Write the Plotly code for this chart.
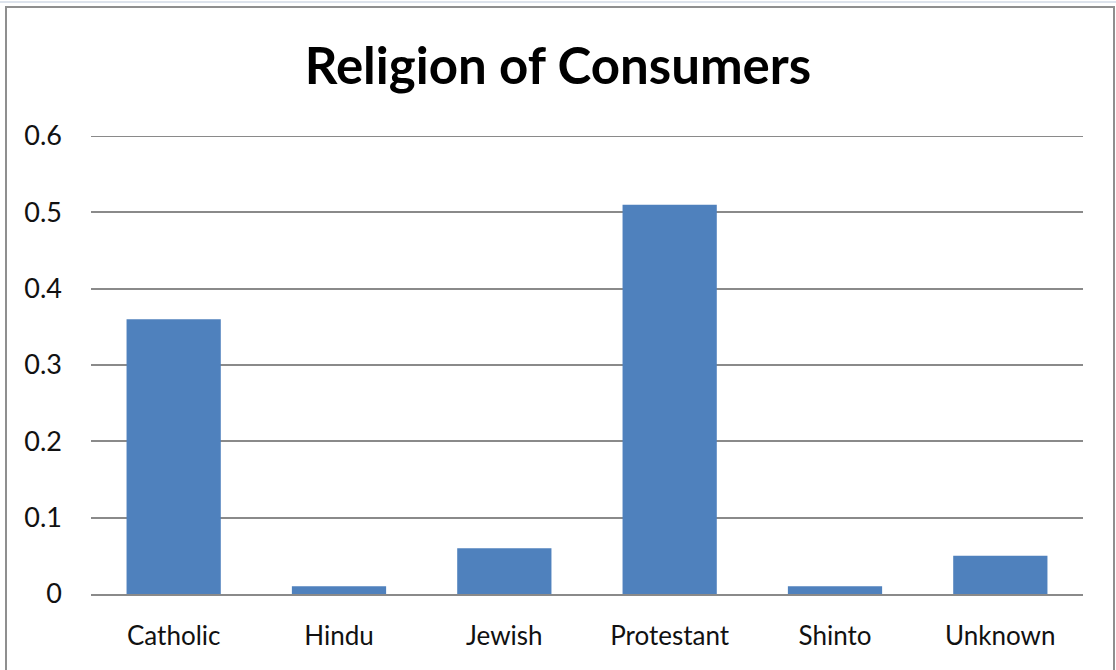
import plotly.graph_objects as go

# Share of consumers by religion
religions = ["Catholic", "Hindu", "Jewish", "Protestant", "Shinto", "Unknown"]
shares = [0.36, 0.01, 0.06, 0.51, 0.01, 0.05]
y_ticks = [0, 0.1, 0.2, 0.3, 0.4, 0.5, 0.6]
y_tick_labels = ["0", "0.1", "0.2", "0.3", "0.4", "0.5", "0.6"]

W, H = 1116, 670
M_L, M_R, M_T, M_B = 91, 33, 136, 76
PW, PH = W - M_L - M_R, H - M_T - M_B
GRID = "#8a8a8a"


def px_x(x):
    return (x - M_L) / PW


def px_y(y):
    return (H - M_B - y) / PH


fig = go.Figure(
    go.Bar(
        x=religions,
        y=shares,
        marker=dict(color="#4F81BD", line=dict(width=0)),
        hoverinfo="x+y",
    )
)

fig.update_layout(
    width=W,
    height=H,
    margin=dict(l=M_L, r=M_R, t=M_T, b=M_B),
    paper_bgcolor="white",
    plot_bgcolor="white",
    bargap=0.43,
    showlegend=False,
    font=dict(family="Lato, 'Open Sans', sans-serif", color="#000000", size=20),
    title=dict(
        text="<b>Religion of Consumers</b>",
        x=0.5,
        xref="container",
        xanchor="center",
        y=1 - 66 / H,
        yref="container",
        yanchor="middle",
        font=dict(family="Lato, sans-serif", size=51, color="#000000"),
    ),
    xaxis=dict(
        showgrid=False,
        showline=True,
        linecolor=GRID,
        linewidth=2,
        ticks="",
        ticklabelstandoff=18,
        tickfont=dict(size=26, color="#111111"),
        zeroline=False,
        fixedrange=True,
    ),
    yaxis=dict(
        range=[0, 0.6],
        tickvals=y_ticks,
        ticktext=y_tick_labels,
        showgrid=True,
        gridcolor=GRID,
        gridwidth=2,
        zeroline=False,
        showline=False,
        ticks="",
        ticklabelstandoff=28,
        tickfont=dict(size=27, color="#111111"),
        fixedrange=True,
    ),
    shapes=[
        # gridline at the top tick, which sits on the plot edge
        dict(
            type="line",
            xref="paper",
            yref="y",
            x0=0,
            x1=1,
            y0=y_ticks[-1],
            y1=y_ticks[-1],
            line=dict(color=GRID, width=2),
            layer="below",
        ),
        # chart frame
        dict(
            type="rect",
            xref="paper",
            yref="paper",
            x0=px_x(6),
            x1=px_x(1114),
            y0=px_y(700),
            y1=px_y(7),
            line=dict(color="#8f8f8f", width=2),
            fillcolor="rgba(0,0,0,0)",
            layer="below",
        ),
        # sheet line above the frame
        dict(
            type="line",
            xref="paper",
            yref="paper",
            x0=px_x(0),
            x1=px_x(W),
            y0=px_y(2),
            y1=px_y(2),
            line=dict(color="#dde3ec", width=2),
        ),
    ],
)

fig.write_html("out.html")
